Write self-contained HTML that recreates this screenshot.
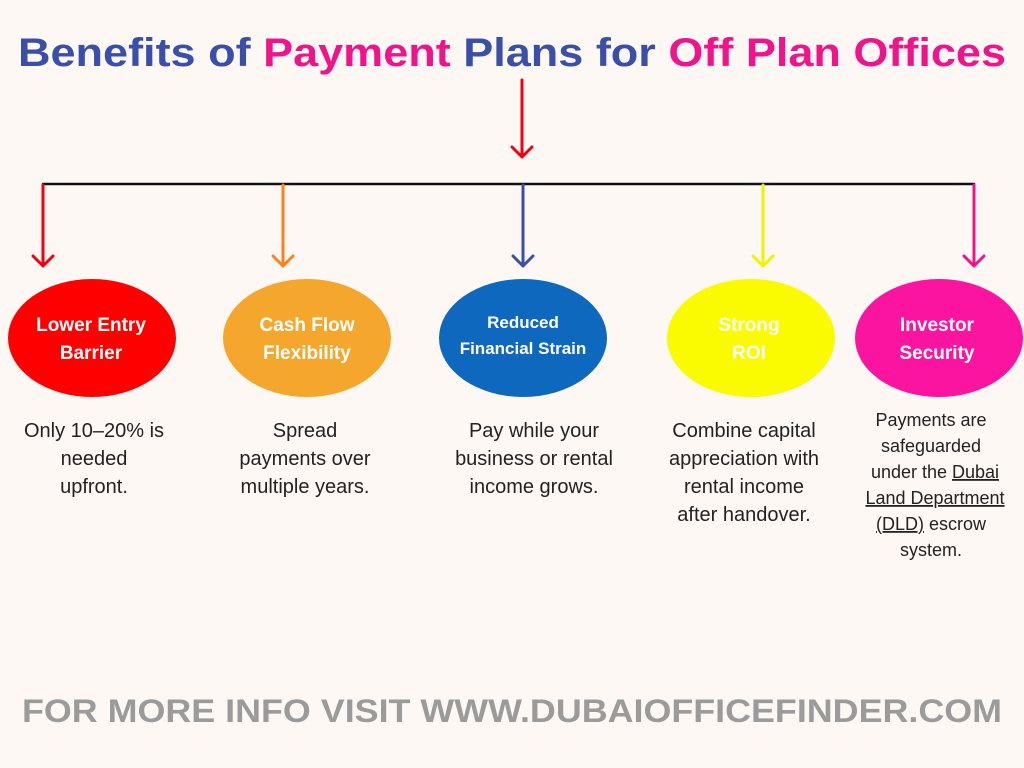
<!DOCTYPE html>
<html><head><meta charset="utf-8"><style>
html,body{margin:0;padding:0;background:#fdf8f4;}
svg{display:block;}
text{font-family:"Liberation Sans",sans-serif;}
</style></head><body>
<svg width="1024" height="768" viewBox="0 0 1024 768" xmlns="http://www.w3.org/2000/svg">
<rect width="1024" height="768" fill="#fdf8f4"/>
<text x="18" y="66" font-size="40" font-weight="bold" textLength="988" lengthAdjust="spacingAndGlyphs"><tspan fill="#3a4fa8">Benefits of </tspan><tspan fill="#f0148c">Payment </tspan><tspan fill="#3a4fa8">Plans for </tspan><tspan fill="#f0148c">Off Plan Offices</tspan></text>
<g stroke-width="3" fill="none" stroke-linecap="round" stroke-linejoin="round">
<path d="M522 80V157M512 147L522 157L532 147" stroke="#f00010"/>
<path d="M43 184H974" stroke="#111" stroke-width="2.5"/>
<path d="M43 185V266M33 256L43 266L53 256" stroke="#f00010"/>
<path d="M283 185V266M273 256L283 266L293 256" stroke="#ff7f1a"/>
<path d="M523 185V266M513 256L523 266L533 256" stroke="#3a4fa8"/>
<path d="M763 185V266M753 256L763 266L773 256" stroke="#f4f000"/>
<path d="M974 185V266M964 256L974 266L984 256" stroke="#f0148c"/>
</g>
<ellipse cx="92" cy="338" rx="84" ry="59" fill="#fe0000"/>
<ellipse cx="307" cy="338" rx="84" ry="59" fill="#f4a72c"/>
<ellipse cx="523" cy="338" rx="84" ry="59" fill="#0e68bd"/>
<ellipse cx="751" cy="338" rx="84" ry="59" fill="#fafa00"/>
<ellipse cx="939" cy="338" rx="84" ry="59" fill="#fa14a0"/>
<g fill="#fff" font-weight="bold" font-size="19" text-anchor="middle">
<text x="91" y="331">Lower Entry</text><text x="91" y="359">Barrier</text>
<text x="307" y="331">Cash Flow</text><text x="307" y="359">Flexibility</text>
<text x="523" y="328" font-size="17">Reduced</text><text x="523" y="354" font-size="17">Financial Strain</text>
<text x="749" y="331">Strong</text><text x="749" y="359">ROI</text>
<text x="937" y="331">Investor</text><text x="937" y="359">Security</text>
</g>
<g fill="#222" font-size="20" text-anchor="middle">
<text x="94" y="437">Only 10–20% is</text><text x="94" y="465">needed</text><text x="94" y="493">upfront.</text>
<text x="305" y="437">Spread</text><text x="305" y="465">payments over</text><text x="305" y="493">multiple years.</text>
<text x="534" y="437">Pay while your</text><text x="534" y="465">business or rental</text><text x="534" y="493">income grows.</text>
<text x="744" y="437">Combine capital</text><text x="744" y="465">appreciation with</text><text x="744" y="493">rental income</text><text x="744" y="521">after handover.</text>
</g>
<g fill="#222" font-size="18" text-anchor="middle">
<text x="931" y="426">Payments are</text><text x="931" y="452">safeguarded</text>
<text x="935" y="478">under the <tspan text-decoration="underline">Dubai</tspan></text>
<text x="935" y="504" text-decoration="underline">Land Department</text>
<text x="931" y="530"><tspan text-decoration="underline">(DLD)</tspan> escrow</text>
<text x="931" y="556">system.</text>
</g>
<text x="22" y="722" font-size="32" font-weight="bold" fill="#9b9b9b" textLength="980" lengthAdjust="spacingAndGlyphs">FOR MORE INFO VISIT WWW.DUBAIOFFICEFINDER.COM</text>
</svg>
</body></html>
